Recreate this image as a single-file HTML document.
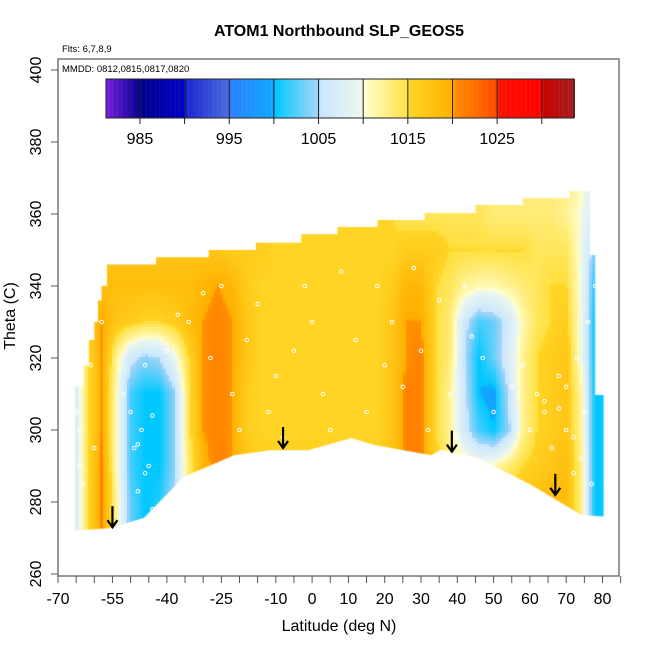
<!DOCTYPE html>
<html><head><meta charset="utf-8"><style>
html,body{margin:0;padding:0;background:#fff;}
#wrap{position:relative;width:650px;height:650px;font-family:"Liberation Sans",sans-serif;}
canvas,svg{position:absolute;left:0;top:0;}
</style></head><body>
<div id="wrap">
<canvas id="heat" width="650" height="650"></canvas>
<svg id="svg" width="650" height="650"></svg>
</div>
<script>
// ---- data ----
const latNodes = [-66,-62,-58,-54,-50,-46,-42,-38,-34,-30,-26,-22,-18,-14,-10,-6,-2,2,6,10,14,18,22,26,30,34,38,42,46,50,54,58,62,66,70,74,78,82];
const thetaNodes = [370,360,350,340,330,320,310,300,290,280,270];
const r370 = [1016,1016,1016,1016,1016,1016,1016,1016,1016,1016,1016,1016,1016,1016,1015,1015,1015,1015,1015,1015,1015,1015,1015,1014,1014,1014,1014,1014,1014,1014,1013,1013,1013,1013,1013,1011,1006,1006];
const r360 = [1016,1016,1016,1016,1016,1016,1016,1016,1016,1016,1016,1016,1016,1016,1015,1015,1015,1015,1015,1015,1015,1015,1015,1014,1014,1014,1014,1014,1014,1013,1013,1013,1013,1013,1012,1010,1006,1006];
const r350 = [1017,1017,1017,1017,1017,1017,1017,1017,1017,1017,1017,1016,1016,1016,1015,1015,1015,1015,1015,1015,1015,1015,1015,1016,1016,1016,1015,1015,1015,1015,1015,1015,1014,1014,1014,1010,1003,1003];
const r340 = [1016,1017,1018,1018,1018,1018,1018,1018,1018,1019,1020,1019,1016,1015,1015,1015,1015,1015,1015,1015,1015,1015,1016,1019,1019,1015,1014,1012,1011,1011,1012,1013,1014,1015,1015,1010,1001,1001];
const r330 = [1010,1016,1020,1017,1016,1015,1015,1016,1018,1020,1021,1020,1017,1015,1015,1015,1015,1015,1015,1015,1015,1015,1017,1020,1020,1015,1013,1006,1002,1003,1006,1011,1014,1015,1016,1010,1000,1000];
const r320 = [1006,1014,1020,1012,1006,1004,1005,1009,1015,1020,1021,1020,1017,1015,1015,1015,1015,1015,1015,1015,1015,1015,1017,1020,1021,1015,1013,1005,1000,1003,1007,1012,1015,1016,1017,1010,1000,1000];
const r310 = [1005,1014,1020,1011,1002,1000,1000,1004,1014,1020,1021,1020,1016,1015,1015,1015,1015,1015,1015,1015,1015,1015,1017,1021,1021,1015,1012,1006,1000,999,1005,1012,1015,1016,1017,1012,1000,1000];
const r300 = [1005,1014,1020,1011,1002,1000,1000,1004,1014,1020,1021,1020,1016,1015,1015,1015,1015,1015,1015,1015,1015,1015,1017,1021,1021,1015,1012,1006,1002,1000,1004,1012,1015,1016,1017,1012,1000,1000];
const r290 = [1005,1014,1021,1011,1002,1000,1000,1004,1013,1019,1021,1020,1017,1016,1016,1016,1016,1016,1016,1016,1016,1016,1017,1021,1021,1016,1013,1012,1010,1011,1013,1015,1016,1017,1018,1013,1000,1000];
const r280 = [1005,1014,1021,1012,1003,1000,1001,1005,1014,1019,1021,1020,1017,1016,1016,1016,1016,1016,1016,1016,1016,1016,1017,1021,1021,1017,1016,1016,1016,1016,1017,1017,1018,1019,1018,1013,1000,1000];
const r270 = [1005,1014,1021,1012,1003,1000,1001,1005,1014,1019,1021,1020,1017,1016,1016,1016,1016,1016,1016,1016,1016,1016,1017,1021,1021,1017,1016,1016,1016,1016,1017,1017,1018,1019,1018,1013,1000,1000];
const grid = [r370,r360,r350,r340,r330,r320,r310,r300,r290,r280,r270];
// data envelope
const topLat = [-65.3,-63,-63,-61.5,-61.5,-60,-60,-59,-59,-58,-58,-56.5,-56.5,-43,-43,-28.5,-28.5,-15.5,-15.5,-3,-3,7,7,18,18,31,31,45,45,58,58,71,71,76.5,76.5,78,78,80.3];
const topTheta = [312,312,318,318,325,325,330,330,336,336,340,340,346,346,348,348,350,350,352,352,354.4,354.4,356.4,356.4,358.3,358.3,360.3,360.3,362.5,362.5,364.4,364.4,366.4,366.4,348.6,348.6,309.7,309.7];
const botLat = [80.3,74.2,60.4,45.8,35.6,32.8,17.1,10.8,-1.1,-11.3,-21.5,-35.3,-46.3,-55.4,-65.3];
const botTheta = [276,276.4,284.7,292.2,294.5,293,295.8,297.8,294.4,294.4,293,287,275.6,272.8,272];
const arrowLat = [-55,-8,38.5,67];
const arrowTheta = [273,295,294,282];
const obsLat = [-64,-63,-61,-60,-58,-52,-50,-49,-48,-47,-46,-45,-44,-40,-37,-34,-30,-28,-25,-22,-20,-18,-15,-12,-10,-8,-5,-2,0,3,5,8,12,15,18,20,22,25,28,30,32,35,38,40,42,44,47,50,55,58,60,62,64,66,68,70,72,73,75,76,77,78,-65,-64,-48,-46,-44,64,68,70,72,74];
const obsTheta = [300,285,318,295,330,310,305,295,283,300,318,290,278,322,332,330,338,320,340,310,300,325,335,305,315,298,322,340,330,310,300,344,325,305,340,318,330,312,345,322,300,336,310,298,340,326,320,305,312,318,300,310,305,295,315,300,288,320,305,330,285,340,305,290,296,288,304,308,306,312,298,292];
const tickVals = [-70,-55,-40,-25,-10,0,10,20,30,40,50,60,70,80];
const yTicks = [260,280,300,320,340,360,380,400];
const cbLabels = [985,995,1005,1015,1025];
const cbLines = [985,990,995,1000,1005,1010,1015,1020,1025,1030];
// colormap stops [value, r,g,b]
const cmap = [[981,123,31,224],[985,0,0,140],[989.9,0,0,200],[990,26,37,208],[994.9,74,110,224],[995,42,128,255],[999.9,16,168,255],[1000,0,200,255],[1004.9,168,212,248],[1005,200,230,255],[1009.9,238,248,238],[1010,255,255,208],[1014.9,255,224,64],[1015,255,212,36],[1019.9,255,176,0],[1020,255,144,0],[1024.9,255,72,0],[1025,255,16,0],[1029.9,255,0,0],[1030,200,0,0],[1034,160,32,32]];

// ---- axes ----
const X0=58, PX=3.63, Y0=574, PY=3.6;
function xOf(lat){return X0+(lat+70)*PX;}
function yOf(th){return Y0-(th-260)*PY;}
const CB0=106, CBS=8.93, CBV=981.2;
function cbX(v){return CB0+(v-CBV)*CBS;}
function colorOf(v){
  if(v<=cmap[0][0]) return cmap[0].slice(1);
  for(let i=1;i<cmap.length;i++){
    if(v<=cmap[i][0]){const a=cmap[i-1],b=cmap[i],t=(v-a[0])/(b[0]-a[0]);
      return [a[1]+(b[1]-a[1])*t,a[2]+(b[2]-a[2])*t,a[3]+(b[3]-a[3])*t];}
  }
  return cmap[cmap.length-1].slice(1);
}
function valAt(lat,th){
  let fx=(lat-latNodes[0])/4; fx=Math.max(0,Math.min(latNodes.length-1.001,fx));
  let fy=(thetaNodes[0]-th)/10; fy=Math.max(0,Math.min(thetaNodes.length-1.001,fy));
  const i=Math.floor(fx),j=Math.floor(fy),tx=fx-i,ty=fy-j;
  const a=grid[j][i],b=grid[j][i+1],c=grid[j+1][i],d=grid[j+1][i+1];
  return a*(1-tx)*(1-ty)+b*tx*(1-ty)+c*(1-tx)*ty+d*tx*ty;
}
// heatmap
const cv=document.getElementById('heat'),ctx=cv.getContext('2d');
ctx.beginPath();
for(let i=0;i<topLat.length;i++){const x=xOf(topLat[i]),y=yOf(topTheta[i]); i?ctx.lineTo(x,y):ctx.moveTo(x,y);}
for(let i=0;i<botLat.length;i++){ctx.lineTo(xOf(botLat[i]),yOf(botTheta[i]));}
ctx.closePath(); ctx.save(); ctx.clip();
const img=ctx.createImageData(650,650);
for(let py=180;py<545;py++){for(let px=60;px<615;px++){
  const lat=(Math.floor((px-X0)/3)*3+1.5)/PX-70, th=260+(Y0-Math.floor(py/3)*3-1.5)/PY;
  const c=colorOf(valAt(lat,th));const k=(py*650+px)*4;
  img.data[k]=c[0];img.data[k+1]=c[1];img.data[k+2]=c[2];img.data[k+3]=255;}}
const tmp=document.createElement('canvas');tmp.width=650;tmp.height=650;tmp.getContext('2d').putImageData(img,0,0);
ctx.drawImage(tmp,0,0);ctx.restore();

// ---- svg ----
const NS='http://www.w3.org/2000/svg',svg=document.getElementById('svg');
function el(tag,attrs,parent){const e=document.createElementNS(NS,tag);for(const k in attrs)e.setAttribute(k,attrs[k]);(parent||svg).appendChild(e);return e;}
function txt(s,attrs){const e=el('text',attrs);e.textContent=s;return e;}
// obs circles
for(let i=0;i<obsLat.length;i++){
  const c=el('circle',{cx:xOf(obsLat[i]),cy:yOf(obsTheta[i]),r:1.8,fill:'none',stroke:'#fff','stroke-width':1});
  
  
}
// arrows
for(let i=0;i<arrowLat.length;i++){
  const x=xOf(arrowLat[i]),y=yOf(arrowTheta[i]);
  const g=el('g',{stroke:'#000','stroke-width':2.2,fill:'none'});
  
  
  el('line',{x1:x,y1:y-21,x2:x,y2:y},g);
  el('polyline',{points:(x-5)+','+(y-7)+' '+x+','+y+' '+(x+5)+','+(y-7)},g);
}
// box
const box=el('rect',{x:58,y:59,width:561,height:517,fill:'none',stroke:'#555','stroke-width':1.2});

// x ticks
for(let v=-70;v<=85;v+=5){const t=el('line',{x1:xOf(v),x2:xOf(v),y1:576,y2:583,stroke:'#555'});
  }
for(const v of tickVals){const t=txt(String(v),{x:xOf(v),y:604,'font-size':16,'text-anchor':'middle',fill:'#000'});
  }
for(const v of yTicks){
  const t=el('line',{x1:51,x2:58,y1:yOf(v),y2:yOf(v),stroke:'#555'});
  
  const l=txt(String(v),{x:0,y:0,'font-size':16,'text-anchor':'middle',fill:'#000',transform:'translate(41,'+yOf(v)+') rotate(-90)'});
  
}
let t;
t=txt('Latitude (deg N)',{x:339,y:631,'font-size':16,'text-anchor':'middle'});
t=txt('Theta (C)',{x:0,y:0,'font-size':16,'text-anchor':'middle',transform:'translate(15,316) rotate(-90)'});
t=txt('ATOM1 Northbound SLP_GEOS5',{x:339,y:36,'font-size':16,'font-weight':'bold','text-anchor':'middle'});
t=txt('Flts: 6,7,8,9',{x:62,y:52,'font-size':9.5});
t=txt('MMDD: 0812,0815,0817,0820',{x:62,y:72,'font-size':9.5});
// colorbar
const cbg=el('g',{});
for(let v=981.2;v<1033.6;v+=0.25){const c=colorOf(v);el('rect',{x:cbX(v),y:79,width:2.4,height:39,fill:'rgb('+c.map(Math.round).join(',')+')'},cbg);}
for(const v of cbLines){el('line',{x1:cbX(v),x2:cbX(v),y1:79,y2:124,stroke:'#222','stroke-width':1},cbg);}
el('rect',{x:106,y:79,width:cbX(1033.6)-106,height:39,fill:'none',stroke:'#222','stroke-width':1},cbg);
for(const v of cbLabels){const l=txt(String(v),{x:cbX(v),y:144,'font-size':16,'text-anchor':'middle'});
  }
</script>
</body></html>
